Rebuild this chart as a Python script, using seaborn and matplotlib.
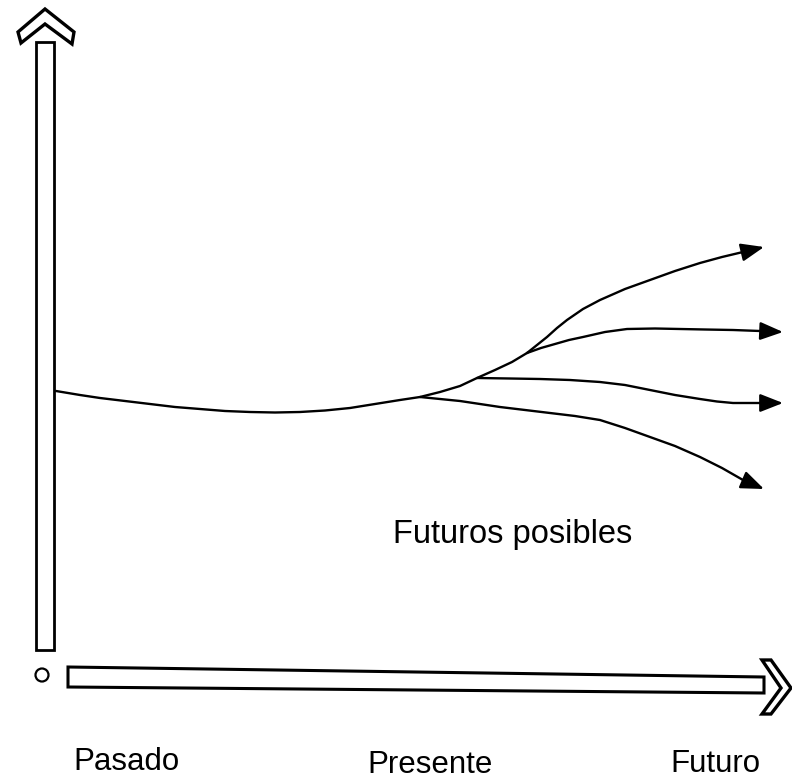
import matplotlib
matplotlib.use('Agg')
import matplotlib.pyplot as plt
import seaborn as sns
from matplotlib.patches import Polygon, Circle, Rectangle

sns.set_style('white')
plt.rcParams['font.family'] = ['Liberation Sans', 'DejaVu Sans']

# tronco comun (pasado -> presente), coordenadas
trunk_x = [56, 80, 100, 125, 150, 175, 200, 225, 250, 275, 300, 325, 350, 375, 400, 420, 440, 460, 477, 495, 512, 527]
trunk_y = [391, 395, 398, 401, 404, 407, 409, 411, 412, 412.5, 412, 410.5, 408, 404, 400, 397, 392, 386, 378, 370, 362, 353]

# futuros posibles (ramas)
top_x = [527, 537, 547, 557, 567, 583, 600, 625, 650, 675, 700, 722, 743]
top_y = [353, 345, 337, 328, 320, 309, 300, 289, 280, 271, 263, 257, 252]
second_x = [527, 541, 555, 569, 583, 605, 627, 655, 680, 705, 733, 760]
second_y = [353, 348, 344, 340, 337, 332, 329, 328.5, 329, 329.5, 330, 331]
third_x = [477, 510, 540, 570, 600, 625, 650, 675, 700, 717, 733, 760]
third_y = [378, 378.5, 379, 380, 382, 385, 390, 395, 399, 401.5, 403, 403]
low_x = [420, 440, 460, 480, 500, 525, 550, 575, 600, 625, 650, 675, 700, 722, 743]
low_y = [397, 399, 401, 404, 407, 410, 413, 416, 420, 428, 437, 446, 457, 468, 480]
branches = [(top_x, top_y), (second_x, second_y), (third_x, third_y), (low_x, low_y)]
tips = [(764, 247), (783, 332), (783, 403), (764, 489)]

labels = ['Pasado', 'Presente', 'Futuro']
label_x = [126, 430, 715]
label_y = [770, 773, 772]

fig = plt.figure(figsize=(7.92, 7.84), dpi=100)
ax = fig.add_axes([0, 0, 1, 1])
ax.set_xlim(0, 792)
ax.set_ylim(784, 0)
ax.axis('off')

# eje vertical con su punta
ax.add_patch(Rectangle((36, 42), 18, 608, fill=False, ec='black', lw=2))
ax.add_patch(Polygon([(18, 32), (45, 9), (74, 32), (72, 44), (45, 24), (21, 43)],
                     closed=True, fill=False, ec='black', lw=2.4))
ax.add_patch(Circle((42, 675), 6.5, fill=False, ec='black', lw=1.6))

# eje horizontal con su punta
ax.add_patch(Polygon([(68, 667), (764, 677), (764, 693), (68, 687)],
                     closed=True, fill=False, ec='black', lw=2.2))
ax.add_patch(Polygon([(762, 660), (771, 660), (791, 688), (771, 714), (762, 714), (781, 688)],
                     closed=True, fill=False, ec='black', lw=2.4))

sns.lineplot(x=trunk_x, y=trunk_y, sort=False, color='black', lw=1.7, ax=ax)
for (bx, by), (tx, ty) in zip(branches, tips):
    sns.lineplot(x=bx, y=by, sort=False, color='black', lw=1.7, ax=ax)
    ax.annotate('', xy=(tx, ty), xytext=(bx[-1], by[-1]),
                arrowprops=dict(arrowstyle='-|>,head_length=1.4,head_width=0.55',
                                color='black', lw=1.7, shrinkA=0, shrinkB=0))

for lab, lx, ly in zip(labels, label_x, label_y):
    ax.text(lx, ly, lab, ha='center', va='baseline', fontsize=22.5, color='black')
ax.text(513, 543, 'Futuros posibles', ha='center', va='baseline', fontsize=23.5, color='black')

fig.savefig('out.png', dpi=100)
